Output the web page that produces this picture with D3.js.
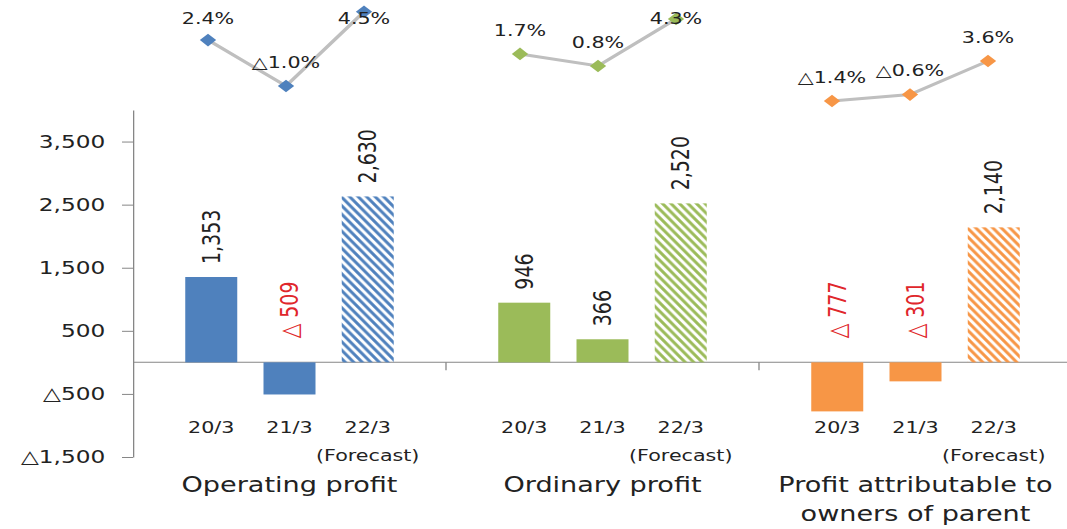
<!DOCTYPE html>
<html>
<head>
<meta charset="utf-8">
<script src="https://cdn.jsdelivr.net/npm/d3@7"></script>
<style>
body { margin: 0; background: #fff; }
svg { display: block; }
text { font-family: "DejaVu Sans", Verdana, sans-serif; fill: #222; }
.axis path, .axis line { stroke: #868686; }
</style>
</head>
<body>
<div id="chart"></div>
<script>
// Profit summary: bars (JPY m) per period, growth-rate lines above each group.
const groups = ["Operating profit", "Ordinary profit", "Profit attributable to\nowners of parent"];
const periods = ["20/3", "21/3", "22/3"];
const forecastPeriod = "22/3";
const operatingProfit = [1353, -509, 2630];
const ordinaryProfit = [946, 366, 2520];
const ownersProfit = [-777, -301, 2140];
const operatingRate = [2.4, -1.0, 4.5];
const ordinaryRate = [1.7, 0.8, 4.3];
const ownersRate = [-1.4, -0.6, 3.6];
const yTicks = [-1500, -500, 500, 1500, 2500, 3500];

const colors = ["#4f81bd", "#9bbb59", "#f79646"];
const red = "#e0262b";
// the picture is stretched sideways, so draw narrow and stretch the svg
const S = 1.29, W = 1067, H = 529;
const sx = v => v / S;
// pixel band (bottom, top) each small rate line lives in
const lineBands = [[86, 11.7], [66, 19], [101, 61]];

const values = [operatingProfit, ordinaryProfit, ownersProfit];
const rates = [operatingRate, ordinaryRate, ownersRate];
const tri = "\u25B3";
const num = d3.format(",");
const fmtTick = v => v < 0 ? tri + num(-v) : num(v);
const fmtBar = v => v < 0 ? tri + " " + num(-v) : num(v);
const fmtPct = v => (v < 0 ? tri : "") + d3.format(".1f")(Math.abs(v)) + "%";

const svg = d3.select("#chart").append("svg")
  .attr("width", W).attr("height", H)
  .attr("viewBox", `0 0 ${sx(W)} ${H}`).attr("preserveAspectRatio", "none");

const left = sx(133);
const x0 = d3.scaleBand().domain(groups).range([left, sx(1072)]);
const x1 = d3.scalePoint().domain(periods).range([0, x0.bandwidth()]).padding(1);
const lx0 = d3.scaleBand().domain(groups).range([sx(130), sx(1066)]);
const lx1 = d3.scalePoint().domain(periods).range([0, lx0.bandwidth()]).padding(1);
const y = d3.scaleLinear().domain([-1500, 4000]).range([457, 110]);
const barW = sx(52);

// hatch patterns for forecast bars
const defs = svg.append("defs");
const pw = sx(8.5), ph = 8.5;
colors.forEach((c, i) => {
  defs.append("pattern").attr("id", "hatch" + i).attr("patternUnits", "userSpaceOnUse")
    .attr("width", pw).attr("height", ph)
    .append("path")
    .attr("d", `M${-pw / 4},${ph * 3 / 4}l${pw / 2},${ph / 2}M0,0l${pw},${ph}M${pw * 3 / 4},${-ph / 4}l${pw / 2},${ph / 2}`)
    .attr("stroke", c).attr("stroke-width", 2.6);
});

// y axis
const ax = svg.append("g").attr("class", "axis").attr("transform", `translate(${left},0)`)
  .call(d3.axisLeft(y).tickValues(yTicks).tickSizeInner(sx(11)).tickSizeOuter(0)
    .tickPadding(13).tickFormat(fmtTick));
ax.attr("font-size", 18);

// zero line + group separators
svg.append("line").attr("x1", left).attr("x2", sx(W)).attr("y1", y(0)).attr("y2", y(0))
  .attr("stroke", "#868686");
groups.slice(1).forEach(g => {
  svg.append("line").attr("x1", x0(g)).attr("x2", x0(g)).attr("y1", y(0)).attr("y2", y(0) + 8)
    .attr("stroke", "#868686");
});

groups.forEach((g, gi) => {
  const bars = periods.map((p, j) => ({ p, v: values[gi][j] }));
  const cx = p => x0(g) + x1(p);

  svg.append("g").selectAll("rect").data(bars).join("rect")
    .attr("x", d => cx(d.p) - barW / 2).attr("width", barW)
    .attr("y", d => y(Math.max(0, d.v))).attr("height", d => Math.abs(y(d.v) - y(0)))
    .attr("fill", d => d.p === forecastPeriod ? `url(#hatch${gi})` : colors[gi]);

  // rotated value labels
  svg.append("g").selectAll("text").data(bars).join("text")
    .attr("transform", d => `translate(${cx(d.p)},${d.v >= 0 ? y(d.v) - 13 : y(0) - 24}) rotate(-90)`)
    .attr("dominant-baseline", "central").attr("font-size", 19)
    .style("fill", d => d.v < 0 ? red : null)
    .text(d => fmtBar(d.v));

  // period labels
  svg.append("g").selectAll("text").data(periods).join("text")
    .attr("x", p => cx(p)).attr("y", 433).attr("text-anchor", "middle").attr("font-size", 16)
    .text(p => p);
  svg.append("text").attr("x", cx(forecastPeriod)).attr("y", 461)
    .attr("text-anchor", "middle").attr("font-size", 16).text("(Forecast)");

  // group title
  const t = svg.append("text").attr("text-anchor", "middle").attr("font-size", 21);
  g.split("\n").forEach((s, k) => {
    t.append("tspan").attr("x", x0(g) + x0.bandwidth() / 2).attr("y", 492 + k * 29).text(s);
  });

  // growth-rate line
  const pts = periods.map((p, j) => ({ p, v: rates[gi][j] }));
  const ly = d3.scaleLinear().domain(d3.extent(pts, d => d.v)).range(lineBands[gi]);
  const lx = p => lx0(g) + lx1(p);
  svg.append("path").datum(pts).attr("fill", "none").attr("stroke", "#bfbfbf").attr("stroke-width", 3)
    .attr("d", d3.line().x(d => lx(d.p)).y(d => ly(d.v)));
  svg.append("g").selectAll("path").data(pts).join("path")
    .attr("transform", d => `translate(${lx(d.p)},${ly(d.v)}) rotate(45)`)
    .attr("d", d3.symbol(d3.symbolSquare, 80)).attr("fill", colors[gi]);
  svg.append("g").selectAll("text").data(pts).join("text")
    .attr("x", d => lx(d.p)).attr("y", d => Math.max(ly(d.v) - 24, 18))
    .attr("text-anchor", "middle").attr("dominant-baseline", "central").attr("font-size", 16)
    .text(d => fmtPct(d.v));
});
</script>
</body>
</html>
